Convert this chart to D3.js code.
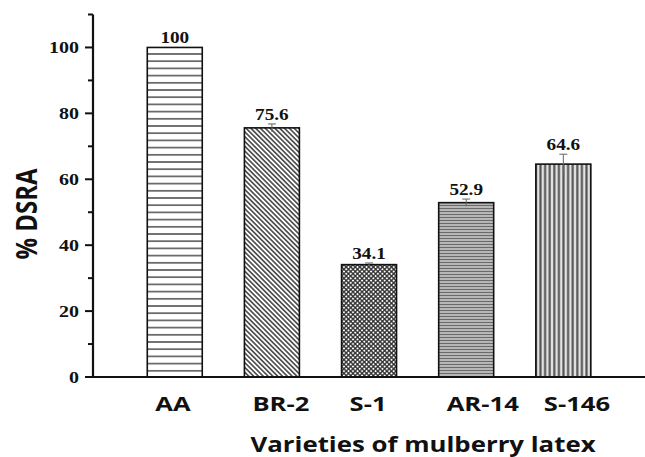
<!DOCTYPE html>
<html>
<head>
<meta charset="utf-8">
<script src="https://cdn.jsdelivr.net/npm/d3@7"></script>
<style>
  html, body { margin: 0; padding: 0; background: #fff; }
  svg { display: block; }
</style>
</head>
<body>
<div id="chart"></div>
<script>
// % DSRA by mulberry latex variety

const varieties = ['AA', 'BR-2', 'S-1', 'AR-14', 'S-146'];
const dsra = [100, 75.6, 34.1, 52.9, 64.6];
const errors = [0, 1.2, 0.5, 1.1, 3.0];
const valueLabels = ['100', '75.6', '34.1', '52.9', '64.6'];
const yMajorTicks = [0, 20, 40, 60, 80, 100];
const yMinorTicks = [10, 30, 50, 70, 90, 110];
const patternIds = ['p-hlines', 'p-diag', 'p-cross', 'p-hdense', 'p-vlines'];

const W = 645, H = 457;
const SX = 1.22; // the source picture is stretched sideways

const svg = d3.select('#chart')
  .append('svg')
  .attr('width', W)
  .attr('height', H)
  .attr('viewBox', [0, 0, W, H]);

const x = d3.scaleBand()
  .domain(varieties)
  .range([98.7, 639.4])
  .paddingInner(0.434)
  .paddingOuter(0.5);

const y = d3.scaleLinear()
  .domain([0, 110])
  .range([377, 14.5]);

// patterns
const defs = svg.append('defs');

function pattern(id, w, h, bg, transform) {
  const p = defs.append('pattern')
    .attr('id', id)
    .attr('patternUnits', 'userSpaceOnUse')
    .attr('width', w)
    .attr('height', h);
  if (transform) p.attr('patternTransform', transform);
  p.append('rect').attr('width', w).attr('height', h).attr('fill', bg);
  return p;
}

pattern('p-hlines', 10, 7.2, '#fff')
  .append('line').attr('x1', 0).attr('x2', 10).attr('y1', 3.6).attr('y2', 3.6)
  .attr('stroke', '#333').attr('stroke-width', 1.3);

pattern('p-diag', 3.4, 10, '#fff', 'rotate(-45)')
  .append('line').attr('x1', 1.7).attr('x2', 1.7).attr('y1', 0).attr('y2', 10)
  .attr('stroke', '#3a3a3a').attr('stroke-width', 1.5);

const cross = pattern('p-cross', 3.2, 3.2, '#fff', 'rotate(45)');
cross.append('line').attr('x1', 1.6).attr('x2', 1.6).attr('y1', 0).attr('y2', 3.2)
  .attr('stroke', '#2a2a2a').attr('stroke-width', 1.3);
cross.append('line').attr('x1', 0).attr('x2', 3.2).attr('y1', 1.6).attr('y2', 1.6)
  .attr('stroke', '#2a2a2a').attr('stroke-width', 1.3);

pattern('p-hdense', 10, 3, '#d8d8d8')
  .append('line').attr('x1', 0).attr('x2', 10).attr('y1', 1.5).attr('y2', 1.5)
  .attr('stroke', '#6a6a6a').attr('stroke-width', 1.6);

pattern('p-vlines', 4.6, 10, '#e4e4e4')
  .append('line').attr('x1', 2.3).attr('x2', 2.3).attr('y1', 0).attr('y2', 10)
  .attr('stroke', '#555').attr('stroke-width', 2.2);

// bars
const rows = varieties.map((v, i) => ({ v, val: dsra[i], err: errors[i], label: valueLabels[i], pat: patternIds[i] }));

svg.append('g')
  .selectAll('rect')
  .data(rows)
  .join('rect')
  .attr('x', d => x(d.v))
  .attr('y', d => y(d.val))
  .attr('width', x.bandwidth())
  .attr('height', d => y(0) - y(d.val))
  .attr('fill', d => `url(#${d.pat})`)
  .attr('stroke', '#111')
  .attr('stroke-width', 1.6);

// error bars (upper half shows above the bar)
const eb = svg.append('g')
  .selectAll('g')
  .data(rows.filter(d => d.err > 0))
  .join('g')
  .attr('stroke', '#666')
  .attr('stroke-width', 1);
eb.append('line')
  .attr('x1', d => x(d.v) + x.bandwidth() / 2)
  .attr('x2', d => x(d.v) + x.bandwidth() / 2)
  .attr('y1', d => y(d.val - d.err))
  .attr('y2', d => y(d.val + d.err));
eb.append('line')
  .attr('x1', d => x(d.v) + x.bandwidth() / 2 - 4)
  .attr('x2', d => x(d.v) + x.bandwidth() / 2 + 4)
  .attr('y1', d => y(d.val + d.err))
  .attr('y2', d => y(d.val + d.err));

// stretched text helper
function stretchText(g, tx, ty, str, opts) {
  return g.append('text')
    .attr('transform', `translate(${tx},${ty}) scale(${opts.sx || SX},1)${opts.rotate ? ` rotate(${opts.rotate})` : ''}`)
    .attr('text-anchor', opts.anchor || 'middle')
    .attr('font-family', opts.family)
    .attr('font-weight', 'bold')
    .attr('font-size', opts.size)
    .attr('fill', '#111')
    .text(str);
}

const serif = '"Liberation Serif", "Times New Roman", serif';
const sans = '"Open Sans", "Noto Sans", sans-serif';

// value labels
const labels = svg.append('g');
rows.forEach(d => {
  stretchText(labels, x(d.v) + x.bandwidth() / 2, y(d.val + d.err) - 4, d.label,
    { family: serif, size: 16, sx: 1.2 });
});

// y axis
const axisG = svg.append('g').attr('stroke', '#111');
axisG.append('line')
  .attr('x1', 93).attr('x2', 93)
  .attr('y1', y(110)).attr('y2', y(0) + 1)
  .attr('stroke-width', 2.2);
axisG.selectAll('.major')
  .data(yMajorTicks)
  .join('line')
  .attr('x1', 85).attr('x2', 93)
  .attr('y1', d => y(d)).attr('y2', d => y(d))
  .attr('stroke-width', 2);
axisG.selectAll('.minor')
  .data(yMinorTicks)
  .join('line')
  .attr('class', 'minor')
  .attr('x1', 88).attr('x2', 93)
  .attr('y1', d => y(d)).attr('y2', d => y(d))
  .attr('stroke-width', 2);

// x axis baseline
axisG.append('line')
  .attr('x1', 85).attr('x2', W)
  .attr('y1', y(0)).attr('y2', y(0))
  .attr('stroke-width', 2.2);

const tickLabels = svg.append('g');
yMajorTicks.forEach(t => {
  stretchText(tickLabels, 79, y(t) + 5.5, String(t), { family: serif, size: 16, anchor: 'end', sx: 1.25 });
});

// x tick labels
varieties.forEach(v => {
  stretchText(tickLabels, x(v) + 8, 411, v, { family: sans, size: 20, anchor: 'start', sx: 1.28 });
});

// axis titles
stretchText(svg, 423, 452, 'Varieties of mulberry latex', { family: sans, size: 20.5, sx: 1.26 });
stretchText(svg, 37, 214, '% DSRA', { family: sans, size: 24, sx: 1.2, rotate: -90 });
</script>
</body>
</html>
